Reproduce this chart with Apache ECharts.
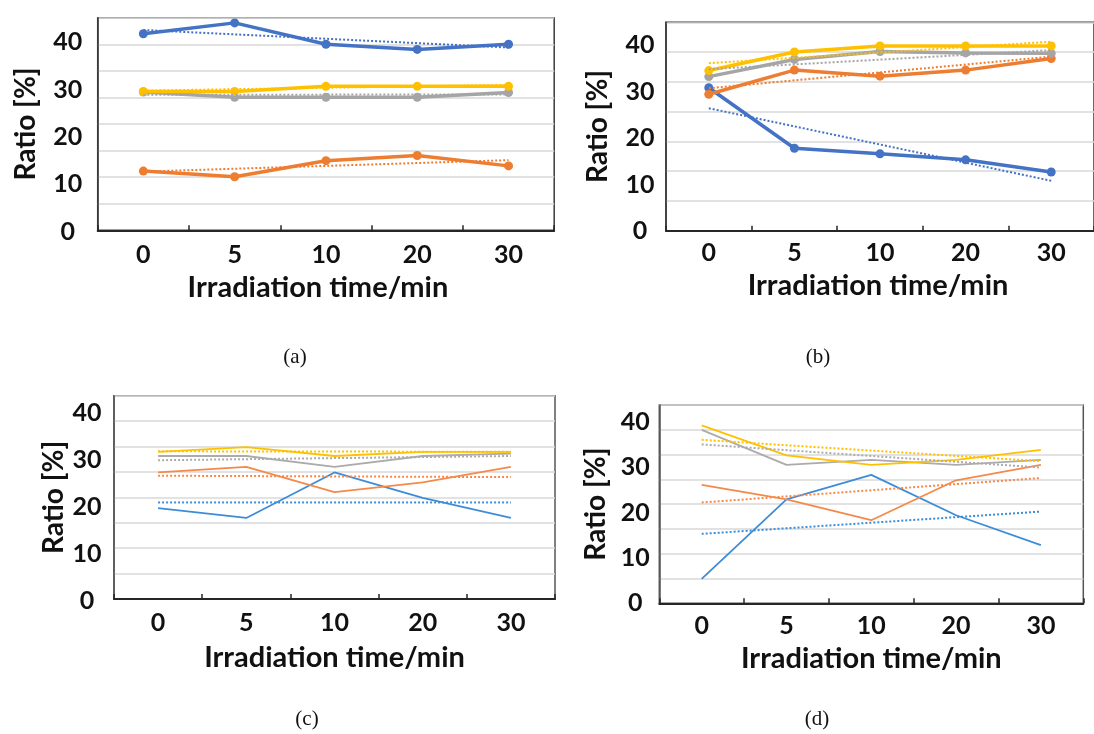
<!DOCTYPE html>
<html>
<head>
<meta charset="utf-8">
<script src="https://cdn.jsdelivr.net/npm/echarts@6/dist/echarts.min.js"></script>
<style>
html,body{margin:0;padding:0;background:#fff;}
#chart{width:1094px;height:734px;}
</style>
</head>
<body>
<div id="chart"></div>
<script>
// ---------- data ----------
const categories = ['0', '5', '10', '20', '30'];
const yTickLabels = [0, 10, 20, 30, 40];
const seriesNames = ['Series 1', 'Series 2', 'Series 3', 'Series 4'];
const panelLabels = ['(a)', '(b)', '(c)', '(d)'];
const xTitle = 'Irradiation time/min';
const yTitle = 'Ratio [%]';

// panel (a)
const a_blue   = [41.8, 44.1, 39.6, 38.5, 39.6];
const a_orange = [12.8, 11.6, 15.0, 16.1, 13.9];
const a_gray   = [29.5, 28.4, 28.4, 28.4, 29.4];
const a_yellow = [29.6, 29.6, 30.7, 30.7, 30.7];
const a_blueTrend   = [42.6, null, null, null, 38.9];
const a_orangeTrend = [12.7, null, null, null, 15.1];
const a_grayTrend   = [28.9, null, null, null, 29.0];
const a_yellowTrend = [29.8, null, null, null, 31.0];

// panel (b)
const b_blue   = [30.8, 17.8, 16.6, 15.3, 12.7];
const b_orange = [29.4, 34.6, 33.3, 34.6, 37.1];
const b_gray   = [33.2, 36.9, 38.6, 38.3, 38.2];
const b_yellow = [34.5, 38.5, 39.8, 39.8, 39.8];
const b_blueTrend   = [26.4, null, null, null, 10.8];
const b_orangeTrend = [30.7, null, null, null, 37.5];
const b_grayTrend   = [34.8, null, null, null, 38.9];
const b_yellowTrend = [36.1, null, null, null, 40.7];

// panel (c)
const c_blue   = [19.8, 17.7, 27.4, 22.0, 17.7];
const c_orange = [27.4, 28.6, 23.2, 25.3, 28.6];
const c_gray   = [30.9, 30.9, 28.6, 30.9, 31.4];
const c_yellow = [31.8, 32.8, 30.9, 31.8, 31.8];
const c_blueTrend   = [21.0, null, null, null, 21.0];
const c_orangeTrend = [26.7, null, null, null, 26.4];
const c_grayTrend   = [30.0, null, null, null, 30.9];
const c_yellowTrend = [31.9, null, null, null, 31.8];

// panel (d)
const d_blue   = [5.4, 22.9, 28.3, 19.4, 12.8];
const d_orange = [26.1, 22.9, 18.3, 27.1, 30.5];
const d_gray   = [38.2, 30.5, 31.6, 30.5, 31.6];
const d_yellow = [39.2, 32.6, 30.5, 31.6, 33.8];
const d_blueTrend   = [15.3, null, null, null, 20.2];
const d_orangeTrend = [22.2, null, null, null, 27.6];
const d_grayTrend   = [35.0, null, null, null, 29.9];
const d_yellowTrend = [36.0, null, null, null, 31.3];

// ---------- layout / style ----------
const boldColors = ['#4472C4', '#ED7D31', '#A5A5A5', '#FFC000'];
const thinColors = ['#3D8CD8', '#F5894A', '#ABABAB', '#FFC000'];
const FONT = 'Lato, "Open Sans", sans-serif';
const TICK_FS = 25, TITLE_FS = 29, YTITLE_FS = 28;

const panels = [
  { frame: {left: 97.7, top: 17.7, width: 456.5, height: 212.6}, gridMax: 40,
    labelGrid: {top: 42.3, height: 189.4}, labelMargin: 30, xMargin: 12, xNameGap: 43, yNameGap: 58, xNameShift: 16,
    frameColor: '#3a3a3a', bold: true,
    lines: [a_blue, a_orange, a_gray, a_yellow], trends: [a_blueTrend, a_orangeTrend, a_grayTrend, a_yellowTrend],
    caption: [295, 357] },
  { frame: {left: 666, top: 22.3, width: 440, height: 208.4}, gridMax: 35,
    labelGrid: {top: 45, height: 186}, labelMargin: 26, xMargin: 10, xNameGap: 40, yNameGap: 54, xNameShift: 4,
    frameColor: '#3a3a3a', bold: true,
    lines: [b_blue, b_orange, b_gray, b_yellow], trends: [b_blueTrend, b_orangeTrend, b_grayTrend, b_yellowTrend],
    caption: [818, 357] },
  { frame: {left: 114, top: 395.7, width: 441, height: 203.3}, gridMax: 40,
    labelGrid: {top: 413.3, height: 187.7}, labelMargin: 27, xMargin: 11, xNameGap: 44, yNameGap: 46, xNameShift: 0,
    frameColor: '#555555', bold: false,
    lines: [c_blue, c_orange, c_gray, c_yellow], trends: [c_blueTrend, c_orangeTrend, c_grayTrend, c_yellowTrend],
    caption: [307, 719] },
  { frame: {left: 659.3, top: 405, width: 424, height: 198.3}, gridMax: 40,
    labelGrid: {top: 421.7, height: 181.6}, labelMargin: 24, xMargin: 10, xNameGap: 41, yNameGap: 49, xNameShift: 0,
    frameColor: '#555555', bold: false,
    lines: [d_blue, d_orange, d_gray, d_yellow], trends: [d_blueTrend, d_orangeTrend, d_grayTrend, d_yellowTrend],
    caption: [817, 719] }
];

const grid = [], xAxis = [], yAxis = [], series = [], graphic = [];

panels.forEach((p, i) => {
  const fIdx = grid.length;
  grid.push({ left: p.frame.left, top: p.frame.top, width: p.frame.width, height: p.frame.height,
    show: true, borderColor: p.frameColor, borderWidth: 1.5, backgroundColor: 'transparent', containLabel: false });
  const lIdx = grid.length;
  grid.push({ left: p.frame.left, top: p.labelGrid.top, width: p.frame.width, height: p.labelGrid.height, containLabel: false });

  // frame axes
  xAxis.push({ gridIndex: fIdx, type: 'category', data: categories, boundaryGap: true,
    axisLine: { show: true, lineStyle: { color: '#262626', width: 2 } },
    axisTick: { show: true, inside: true, length: 5, lineStyle: { color: '#262626', width: 1.5 } },
    axisLabel: { show: true, margin: p.xMargin, fontFamily: FONT, fontWeight: 'bold', fontSize: TICK_FS, color: '#111' },
    name: xTitle, nameLocation: 'middle', nameGap: p.xNameGap,
    nameTextStyle: { fontFamily: FONT, fontWeight: 'bold', fontSize: TITLE_FS, color: '#111',
      padding: [0, p.xNameShift, 0, 0] } });
  yAxis.push({ gridIndex: fIdx, type: 'value', min: 0, max: p.gridMax, interval: 5,
    axisLine: { show: true, lineStyle: { color: p.frameColor, width: 1.5 } },
    axisTick: { show: false }, axisLabel: { show: false },
    splitLine: { show: true, lineStyle: { color: '#D9D9D9', width: 1.5 } },
    name: yTitle, nameLocation: 'middle', nameGap: p.yNameGap, nameRotate: 90,
    nameTextStyle: { fontFamily: FONT, fontWeight: 'bold', fontSize: YTITLE_FS, color: '#111' } });

  // label axes (carry the data values)
  xAxis.push({ gridIndex: lIdx, type: 'category', data: categories, boundaryGap: true, show: false });
  yAxis.push({ gridIndex: lIdx, type: 'value', min: yTickLabels[0], max: yTickLabels[yTickLabels.length - 1], interval: 10,
    axisLine: { show: false }, axisTick: { show: false }, splitLine: { show: false },
    axisLabel: { show: true, align: 'center', margin: p.labelMargin, fontFamily: FONT, fontWeight: 'bold', fontSize: TICK_FS, color: '#111',
      formatter: v => (yTickLabels.indexOf(v) >= 0 ? String(v) : '') } });

  const colors = p.bold ? boldColors : thinColors;
  p.lines.forEach((arr, k) => {
    series.push({ name: seriesNames[k], type: 'line', xAxisIndex: lIdx, yAxisIndex: lIdx, data: arr, clip: false,
      showSymbol: p.bold, symbol: 'circle', symbolSize: 9,
      itemStyle: { color: colors[k] },
      lineStyle: { color: colors[k], width: p.bold ? 3.5 : 1.8 }, z: 3, animation: false });
  });
  p.trends.forEach((arr, k) => {
    series.push({ name: seriesNames[k] + ' trend', type: 'line', xAxisIndex: lIdx, yAxisIndex: lIdx, data: arr, clip: false,
      connectNulls: true, showSymbol: false, symbol: 'none',
      lineStyle: { color: colors[k], width: 2, type: [2, 2] }, z: 4, animation: false });
  });

  graphic.push({ type: 'text', x: p.caption[0], y: p.caption[1],
    style: { text: panelLabels[i], font: '21px "Liberation Serif", "DejaVu Serif", serif', fill: '#111',
      align: 'center', verticalAlign: 'middle' } });
});

const chart = echarts.init(document.getElementById('chart'), null, { renderer: 'canvas' });
chart.setOption({ animation: false, backgroundColor: '#fff', grid, xAxis, yAxis, series, graphic, legend: { show: false } });
</script>
</body>
</html>
